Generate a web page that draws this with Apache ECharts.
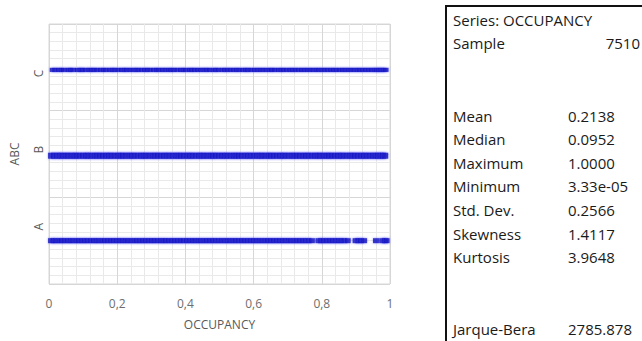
<!DOCTYPE html>
<html>
<head>
<meta charset="utf-8">
<script src="https://cdn.jsdelivr.net/npm/echarts@6/dist/echarts.min.js"></script>
<style>
  html, body { margin: 0; padding: 0; background: #fff; }
  #main { width: 642px; height: 341px; }
</style>
</head>
<body>
<div id="main"></div>
<script>
// categories and their level on the y scale
var categories = ['A', 'B', 'C']
var categoryLevels = [0.50, 1.48, 2.47]
var labelLevels = [0.66, 1.55, 2.43]

// occupancy values seen along each strip
var valuesA = [0.006, 0.013, 0.021, 0.03, 0.038, 0.046, 0.055, 0.063, 0.071, 0.08, 0.088, 0.097, 0.105, 0.113, 0.122, 0.131, 0.139, 0.147, 0.156, 0.164, 0.173, 0.181, 0.19, 0.198, 0.207, 0.215, 0.224, 0.232, 0.241, 0.25, 0.258, 0.267, 0.275, 0.284, 0.292, 0.301, 0.309, 0.318, 0.327, 0.335, 0.343, 0.352, 0.361, 0.369, 0.378, 0.386, 0.395, 0.404, 0.412, 0.421, 0.429, 0.438, 0.446, 0.455, 0.463, 0.472, 0.48, 0.489, 0.497, 0.506, 0.514, 0.523, 0.531, 0.54, 0.548, 0.557, 0.566, 0.574, 0.583, 0.591, 0.6, 0.608, 0.617, 0.625, 0.634, 0.642, 0.651, 0.659, 0.668, 0.676, 0.685, 0.693, 0.702, 0.71, 0.719, 0.727, 0.736, 0.744, 0.753, 0.761, 0.771, 0.79, 0.798, 0.806, 0.815, 0.823, 0.832, 0.84, 0.849, 0.857, 0.866, 0.876, 0.899, 0.907, 0.915, 0.924, 0.959, 0.977, 0.985, 0.99]
var valuesB = [0.006, 0.014, 0.023, 0.031, 0.039, 0.048, 0.056, 0.065, 0.074, 0.081, 0.09, 0.099, 0.108, 0.115, 0.124, 0.133, 0.141, 0.149, 0.158, 0.167, 0.175, 0.183, 0.192, 0.201, 0.209, 0.217, 0.226, 0.235, 0.243, 0.251, 0.26, 0.269, 0.277, 0.285, 0.294, 0.303, 0.311, 0.319, 0.328, 0.337, 0.345, 0.353, 0.362, 0.371, 0.379, 0.387, 0.396, 0.405, 0.413, 0.421, 0.43, 0.439, 0.447, 0.455, 0.464, 0.473, 0.481, 0.489, 0.498, 0.507, 0.515, 0.523, 0.532, 0.541, 0.549, 0.557, 0.566, 0.575, 0.583, 0.591, 0.6, 0.609, 0.617, 0.625, 0.634, 0.643, 0.651, 0.659, 0.668, 0.677, 0.685, 0.693, 0.702, 0.711, 0.719, 0.727, 0.736, 0.745, 0.753, 0.761, 0.77, 0.779, 0.787, 0.795, 0.804, 0.813, 0.821, 0.829, 0.838, 0.847, 0.855, 0.863, 0.872, 0.881, 0.889, 0.897, 0.906, 0.915, 0.923, 0.931, 0.94, 0.949, 0.957, 0.965, 0.972, 0.979, 0.986]
var valuesC = [0.011, 0.018, 0.029, 0.036, 0.044, 0.057, 0.063, 0.071, 0.084, 0.092, 0.098, 0.107, 0.118, 0.124, 0.133, 0.141, 0.152, 0.16, 0.167, 0.179, 0.186, 0.194, 0.203, 0.214, 0.221, 0.229, 0.238, 0.247, 0.256, 0.262, 0.273, 0.281, 0.289, 0.297, 0.308, 0.316, 0.323, 0.334, 0.341, 0.352, 0.358, 0.367, 0.376, 0.387, 0.394, 0.402, 0.413, 0.419, 0.428, 0.437, 0.446, 0.455, 0.463, 0.471, 0.482, 0.489, 0.497, 0.508, 0.516, 0.524, 0.533, 0.542, 0.551, 0.558, 0.569, 0.577, 0.584, 0.593, 0.603, 0.611, 0.62, 0.628, 0.637, 0.646, 0.654, 0.662, 0.673, 0.681, 0.688, 0.698, 0.707, 0.715, 0.723, 0.732, 0.741, 0.749, 0.758, 0.766, 0.775, 0.784, 0.792, 0.801, 0.809, 0.818, 0.827, 0.835, 0.843, 0.852, 0.861, 0.869, 0.878, 0.886, 0.895, 0.904, 0.912, 0.921, 0.929, 0.938, 0.946, 0.955, 0.961, 0.968, 0.974, 0.981, 0.987]

// statistics table
var seriesName = 'OCCUPANCY'
var sampleSize = '7510'
var statNames = ['Mean', 'Median', 'Maximum', 'Minimum', 'Std. Dev.', 'Skewness', 'Kurtosis']
var statValues = ['0.2138', '0.0952', '1.0000', '3.33e-05', '0.2566', '1.4117', '3.9648']
var jbName = 'Jarque-Bera'
var jbValue = '2785.878'

var textFont = '"Open Sans", sans-serif'
var markStyle = {
  color: '#1212bd',
  shadowBlur: 2,
  shadowColor: 'rgba(70, 70, 255, 0.7)'
}

function strip (values, level) {
  return values.map(function (v) { return [v, level] })
}

var tableText = []
function addText (x, y, text, align) {
  tableText.push({
    type: 'text',
    left: align === 'right' ? null : x,
    right: align === 'right' ? 642 - x : null,
    top: y - 10,
    style: { text: text, fill: '#1a1a1a', font: '15px ' + textFont }
  })
}
addText(453, 22, 'Series: ' + seriesName)
addText(453, 45, 'Sample')
addText(640, 45, sampleSize, 'right')
statNames.forEach(function (n, i) {
  addText(453, 118 + i * 23.6, n)
  addText(568, 118 + i * 23.6, statValues[i])
})
addText(453, 331, jbName)
addText(568, 331, jbValue)

var chart = echarts.init(document.getElementById('main'), null, { renderer: 'svg' })
chart.setOption({
  animation: false,
  backgroundColor: '#fff',
  textStyle: { fontFamily: textFont },
  grid: {
    left: 46, top: 24, right: 252, bottom: 57,
    show: true, borderColor: '#d9d9d9', borderWidth: 1
  },
  xAxis: {
    type: 'value',
    min: 0,
    max: 1,
    interval: 0.2,
    name: 'OCCUPANCY',
    nameLocation: 'middle',
    nameGap: 34,
    nameTextStyle: { color: '#595959', fontSize: 12 },
    axisLine: { show: false },
    axisTick: { show: false },
    axisLabel: {
      color: '#6e6e6e',
      fontSize: 12,
      margin: 13,
      formatter: function (v) { return String(v).replace('.', ',') }
    },
    splitLine: { lineStyle: { color: '#d6d6d6' } },
    minorTick: { show: false, splitNumber: 5 },
    minorSplitLine: { show: true, lineStyle: { color: '#e9e9e9' } }
  },
  yAxis: {
    type: 'value',
    min: 0,
    max: 3,
    interval: 1,
    name: 'ABC',
    nameLocation: 'middle',
    nameRotate: 90,
    nameGap: 29,
    nameTextStyle: { color: '#595959', fontSize: 12 },
    axisLine: { show: false },
    axisTick: { show: false },
    axisLabel: {
      color: '#595959',
      fontSize: 12,
      rotate: 90,
      margin: 5,
      customValues: labelLevels,
      formatter: function (v) {
        var i = labelLevels.indexOf(v)
        return i >= 0 ? categories[i] : ''
      }
    },
    splitLine: { lineStyle: { color: '#d6d6d6' } },
    minorTick: { show: false, splitNumber: 10 },
    minorSplitLine: { show: true, lineStyle: { color: '#e9e9e9' } }
  },
  series: [
    {
      type: 'scatter', name: 'A', symbol: 'rect', symbolSize: [6, 5],
      itemStyle: markStyle,
      data: strip(valuesA, categoryLevels[0])
    },
    {
      type: 'scatter', name: 'B', symbol: 'rect', symbolSize: [6, 6],
      itemStyle: markStyle,
      data: strip(valuesB, categoryLevels[1])
    },
    {
      type: 'scatter', name: 'C', symbol: 'rect', symbolSize: [6, 4],
      itemStyle: markStyle,
      data: strip(valuesC, categoryLevels[2])
    }
  ],
  graphic: [
    { type: 'line', shape: { x1: 446, y1: 6, x2: 446, y2: 341 }, style: { stroke: '#111', lineWidth: 2 } },
    { type: 'line', shape: { x1: 445, y1: 6, x2: 642, y2: 6 }, style: { stroke: '#111', lineWidth: 2 } }
  ].concat(tableText)
})
</script>
</body>
</html>
